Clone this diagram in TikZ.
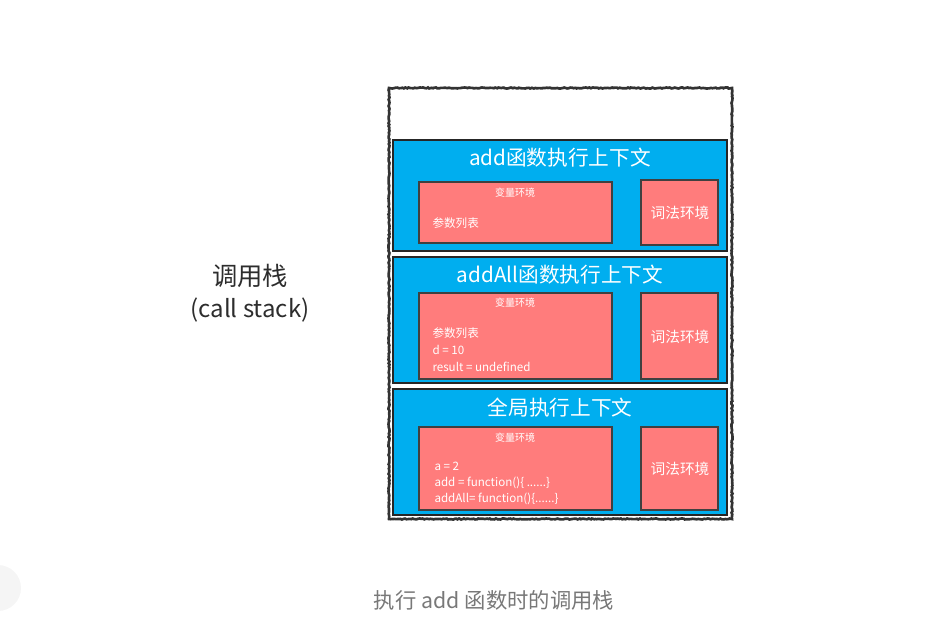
\documentclass[tikz,border=0pt]{standalone}
\usepackage{fontspec}
\newfontfamily\cjk{Noto Sans CJK SC}
\usetikzlibrary{decorations.pathmorphing}
\definecolor{ctxblue}{RGB}{0,174,239}
\definecolor{envred}{RGB}{255,124,124}
\definecolor{capgray}{RGB}{120,120,120}
\definecolor{labgray}{RGB}{45,45,45}
\tikzset{every picture/.style={line width=0.75pt}}
\tikzset{
  stackbox/.style={draw=black!80, fill=white, line width=2pt, decorate,
    decoration={random steps, segment length=1.2pt, amplitude=0.4pt}},
  ctxframe/.style={draw=black!85, fill=ctxblue, line width=1pt},
  envbox/.style={draw=black!75, fill=envred, line width=0.8pt},
  ctxtitle/.style={text=white, font=\cjk\fontsize{15.5}{18}\selectfont, inner sep=0.75pt},
  envtitle/.style={text=white, font=\cjk\fontsize{7.5}{9}\selectfont, inner sep=0.75pt},
  envline/.style={anchor=west, text=white, font=\cjk\fontsize{8.7}{10}\selectfont, inner sep=0.75pt},
  lextext/.style={text=white, font=\cjk\fontsize{11}{13}\selectfont, inner sep=0.75pt},
}
\begin{document}
\begin{tikzpicture}[x=0.75pt,y=0.75pt,yscale=-1,xscale=1]
\useasboundingbox (0,0) rectangle (939,633);

%Shape: faint circle at the left edge
\fill [black!4] (-2,588) circle (23);

%Shape: call stack outline
\draw [stackbox] (389,88) rectangle (732,519);

%Shape: add frame
\draw [ctxframe] (393,140) rectangle (727,251);
\draw [envbox] (419,182) rectangle (612,243);
\draw [envbox] (641,180) rectangle (718,245);
%Shape: addAll frame
\draw [ctxframe] (393,257) rectangle (727,383);
\draw [envbox] (419,293) rectangle (612,379);
\draw [envbox] (641,293) rectangle (718,379);
%Shape: global frame
\draw [ctxframe] (393,389) rectangle (727,515);
\draw [envbox] (419,427) rectangle (612,510);
\draw [envbox] (641,427) rectangle (718,510);

% Text Node
\node [ctxtitle] (addTitle) at (560,158) {add函数执行上下文};
\node [envtitle] (addVar) at (515,193) {变量环境};
\node [envline] (addArgs) at (431,223) {参数列表};
\node [lextext] (addLex) at (680,213) {词法环境};
% Text Node
\node [ctxtitle] (allTitle) at (560,275) {addAll函数执行上下文};
\node [envtitle] (allVar) at (515,303) {变量环境};
\node [envline] (allArgs) at (431,333) {参数列表};
\node [envline] (allD) at (431,350) {d = 10};
\node [envline] (allRes) at (431,367) {result = undefined};
\node [lextext] (allLex) at (680,337) {词法环境};
% Text Node
\node [ctxtitle] (gloTitle) at (560,408) {全局执行上下文};
\node [envtitle] (gloVar) at (515,438) {变量环境};
\node [envline] (gloA) at (433,466) {a = 2};
\node [envline] (gloAdd) at (433,483) {add = function()\{ ......\}};
\node [envline] (gloAll) at (433,499) {addAll= function()\{......\}};
\node [lextext] (gloLex) at (680,469) {词法环境};

% Text Node
\node [text=labgray, font=\cjk\fontsize{19}{22}\selectfont, inner sep=0.75pt] (stackName) at (250,276) {调用栈};
\node [text=labgray, font=\cjk\fontsize{18}{21}\selectfont, inner sep=0.75pt] (stackEn) at (250,310) {(call stack)};
% Text Node
\node [text=capgray, font=\cjk\fontsize{16}{19}\selectfont, inner sep=0.75pt] (caption) at (494,600) {执行 add 函数时的调用栈};
\end{tikzpicture}
\end{document}
